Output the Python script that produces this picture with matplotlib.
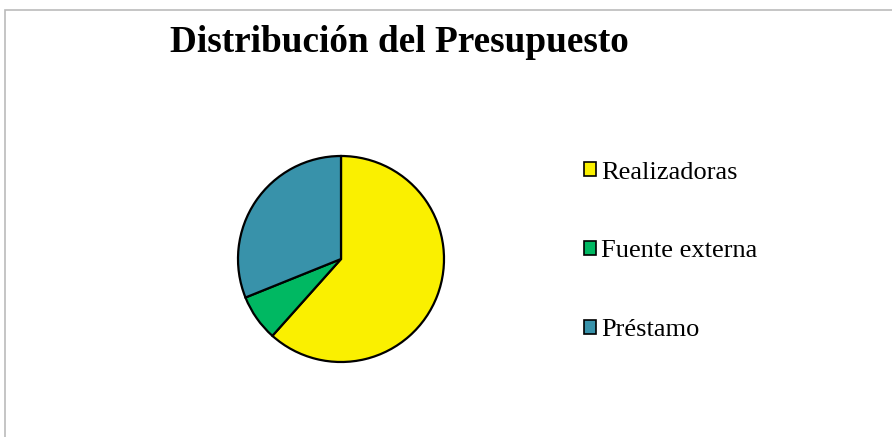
import matplotlib
matplotlib.use("Agg")
import matplotlib.pyplot as plt
from matplotlib.patches import Patch, Rectangle

# values (percent of budget)
labels = ["Realizadoras", "Fuente externa", "Préstamo"]
values = [61.6, 7.3, 31.1]
colors = ["#FAF000", "#00B862", "#3892AA"]

W, H = 892, 437
fig = plt.figure(figsize=(W / 100, H / 100), dpi=100)
plt.rcParams["font.family"] = ["Liberation Serif", "DejaVu Serif"]

# grey chart-area border (right and bottom edges fall outside the image)
fig.patches.append(Rectangle((5 / W, -0.1), 1.2, (H - 10) / H + 0.1,
                             transform=fig.transFigure, fill=False,
                             edgecolor="#BBBBBB", linewidth=1.2))

cx, cy, r = 341, 259, 103
ax = fig.add_axes([(cx - r) / W, (H - cy - r) / H, 2 * r / W, 2 * r / H])
ax.pie(values, colors=colors, startangle=90, counterclock=False,
       wedgeprops=dict(edgecolor="black", linewidth=1.6))
ax.set_xlim(-1.0, 1.0)
ax.set_ylim(-1.0, 1.0)
ax.set_aspect("equal")
ax.axis("off")

fig.text(399 / W, 1 - 43 / H, "Distribución del Presupuesto", ha="center",
         va="center", fontsize=26.8, fontweight="bold")

handles = [Patch(facecolor=c, edgecolor="black", linewidth=1.2) for c in colors]
fig.legend(handles, labels, loc="upper left",
           bbox_to_anchor=(560 / W, 1 - 138 / H), frameon=False,
           fontsize=19, handlelength=0.45, handleheight=0.45,
           handletextpad=0.22, labelspacing=2.15)

fig.savefig("out.png", dpi=100)
